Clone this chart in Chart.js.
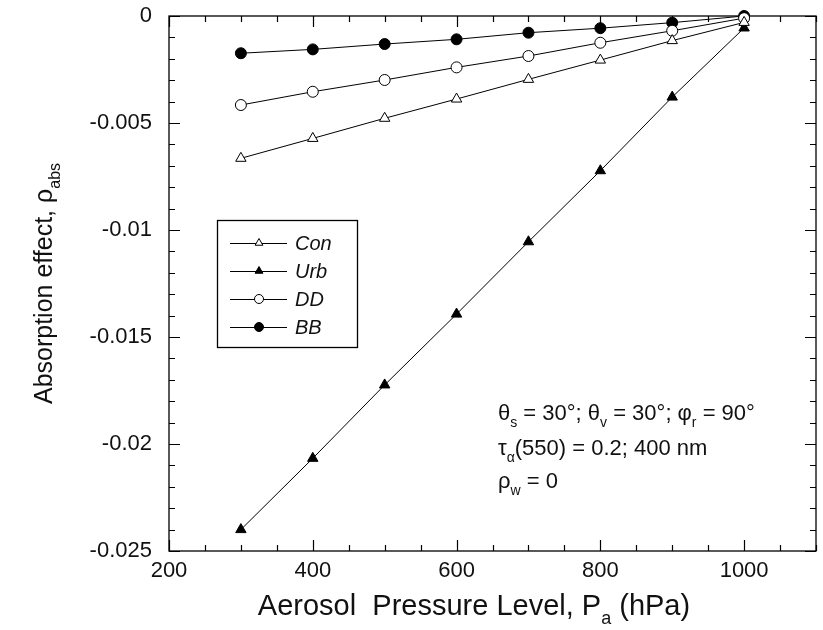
<!DOCTYPE html>
<html>
<head>
<meta charset="utf-8">
<script src="https://cdn.jsdelivr.net/npm/chart.js@4.4.1/dist/chart.umd.min.js"></script>
<style>
  html, body { margin: 0; padding: 0; background: #fff; }
</style>
</head>
<body>
<canvas id="absChart" width="823" height="630"></canvas>
<script>
// values
const pressureLevels = [300, 400, 500, 600, 700, 800, 900, 1000];
const conValues = [-0.00665, -0.00572, -0.00478, -0.00388, -0.00296, -0.00206, -0.00115, -0.0003];
const urbValues = [-0.0240, -0.02067, -0.01724, -0.01393, -0.01055, -0.00723, -0.00379, -0.00056];
const ddValues  = [-0.00416, -0.00354, -0.00299, -0.0024, -0.00187, -0.00125, -0.00069, -0.0001];
const bbValues  = [-0.00174, -0.00156, -0.00131, -0.00109, -0.00078, -0.00057, -0.00031, 0];
const seriesNames = ['Con', 'Urb', 'DD', 'BB'];
const xTickValues = [200, 400, 600, 800, 1000];
const yTickValues = [0, -0.005, -0.01, -0.015, -0.02, -0.025];

const FONT = '"Liberation Sans", Arial, Helvetica, sans-serif';

function toPoints(values) {
  return values.map((v, i) => ({ x: pressureLevels[i], y: v }));
}

function makeSet(name, values, style, fill, r) {
  return {
    label: name,
    data: toPoints(values),
    borderColor: '#000',
    borderWidth: 1,
    pointStyle: style,
    pointRadius: r,
    pointBackgroundColor: fill,
    pointBorderColor: '#000',
    pointBorderWidth: 1,
    tension: 0,
    clip: false
  };
}

// text with subscripts: parts = [[text, isSub], ...]
function drawRich(ctx, parts, x, y, size, italic) {
  let cx = x;
  const style = italic ? 'italic ' : '';
  parts.forEach(([txt, sub]) => {
    const s = sub ? Math.round(size * 0.62) : size;
    ctx.font = style + s + 'px ' + FONT;
    ctx.fillText(txt, cx, sub ? y + size * 0.3 : y);
    cx += ctx.measureText(txt).width;
  });
  return cx - x;
}

function richWidth(ctx, parts, size) {
  let w = 0;
  parts.forEach(([txt, sub]) => {
    const s = sub ? Math.round(size * 0.62) : size;
    ctx.font = s + 'px ' + FONT;
    w += ctx.measureText(txt).width;
  });
  return w;
}

const frameTicks = {
  id: 'frameTicks',
  beforeDatasetsDraw(chart) {
    const { ctx, chartArea: a, scales } = chart;
    const xs = scales.x, ys = scales.y;
    ctx.save();
    ctx.strokeStyle = '#000';
    ctx.lineWidth = 1.3;
    ctx.strokeRect(a.left, a.top, a.right - a.left, a.bottom - a.top);
    ctx.lineWidth = 1.2;
    ctx.beginPath();
    for (let v = xs.min; v <= xs.max; v += 50) {
      const px = Math.round(xs.getPixelForValue(v)) + 0.5;
      const len = v % 200 === 0 ? 11 : 6;
      ctx.moveTo(px, a.bottom); ctx.lineTo(px, a.bottom - len);
      ctx.moveTo(px, a.top); ctx.lineTo(px, a.top + len);
    }
    for (let i = 0; i <= 25; i++) {
      const py = Math.round(ys.getPixelForValue(-i * 0.001)) + 0.5;
      const len = i % 5 === 0 ? 11 : 6;
      ctx.moveTo(a.left, py); ctx.lineTo(a.left + len, py);
      ctx.moveTo(a.right, py); ctx.lineTo(a.right - len, py);
    }
    ctx.stroke();
    ctx.restore();
  },
  afterDraw(chart) {
    const { ctx, chartArea: a } = chart;
    ctx.save();
    ctx.fillStyle = '#111';
    ctx.textBaseline = 'alphabetic';

    // axis titles
    const xt = [['Aerosol  Pressure Level, P', false], ['a', true], [' (hPa)', false]];
    const xw = richWidth(ctx, xt, 29);
    drawRich(ctx, xt, 474 - xw / 2, 615, 29);

    const yt = [['Absorption effect, \u03c1', false], ['abs', true]];
    const yw = richWidth(ctx, yt, 25);
    ctx.save();
    ctx.translate(42, (a.top + a.bottom) / 2);
    ctx.rotate(-Math.PI / 2);
    drawRich(ctx, yt, -yw / 2, 10, 25);
    ctx.restore();

    // annotation
    drawRich(ctx, [['\u03b8', false], ['s', true], [' = 30\u00b0; \u03b8', false], ['v', true],
      [' = 30\u00b0; \u03c6', false], ['r', true], [' = 90\u00b0', false]], 498, 420, 22);
    drawRich(ctx, [['\u03c4', false], ['\u03b1', true], ['(550) = 0.2; 400 nm', false]], 498, 455, 22);
    drawRich(ctx, [['\u03c1', false], ['w', true], [' = 0', false]], 498, 488, 22);

    // legend box
    ctx.strokeStyle = '#000';
    ctx.lineWidth = 1.3;
    ctx.strokeRect(217.5, 220.5, 140, 127);
    chart.data.datasets.forEach((ds, i) => {
      const y = 243 + i * 28;
      ctx.lineWidth = 1;
      ctx.beginPath();
      ctx.moveTo(230, y + 0.5); ctx.lineTo(287, y + 0.5);
      ctx.stroke();
      ctx.fillStyle = ds.pointBackgroundColor;
      ctx.strokeStyle = '#000';
      Chart.helpers.drawPoint(ctx, { pointStyle: ds.pointStyle, rotation: 0, radius: 4.5, borderWidth: 1 }, 259, y);
      ctx.fillStyle = '#111';
      ctx.font = 'italic 20px ' + FONT;
      ctx.textBaseline = 'middle';
      ctx.fillText(ds.label, 295, y + 1);
      ctx.textBaseline = 'alphabetic';
    });
    ctx.restore();
  }
};

function noPad(s) {
  s.paddingTop = 0; s.paddingBottom = 0; s.paddingLeft = 0; s.paddingRight = 0;
}

new Chart(document.getElementById('absChart'), {
  type: 'line',
  data: {
    datasets: [
      makeSet(seriesNames[0], conValues, 'triangle', '#fff', 6),
      makeSet(seriesNames[1], urbValues, 'triangle', '#000', 6),
      makeSet(seriesNames[2], ddValues, 'circle', '#fff', 5.5),
      makeSet(seriesNames[3], bbValues, 'circle', '#000', 5.5)
    ]
  },
  options: {
    responsive: false,
    animation: false,
    events: [],
    layout: { padding: { left: 0, top: 16, right: 3, bottom: 0 } },
    plugins: { legend: { display: false }, tooltip: { enabled: false } },
    scales: {
      x: {
        type: 'linear',
        min: 200,
        max: 1100,
        grid: { display: false, drawTicks: false },
        border: { display: false },
        afterBuildTicks: s => { s.ticks = xTickValues.map(v => ({ value: v })); },
        afterFit: s => { s.height = 79; noPad(s); },
        ticks: {
          padding: 7,
          color: '#111',
          maxRotation: 0,
          font: { family: FONT, size: 22 },
          callback: v => String(v)
        }
      },
      y: {
        type: 'linear',
        min: -0.025,
        max: 0,
        grid: { display: false, drawTicks: false },
        border: { display: false },
        afterBuildTicks: s => { s.ticks = yTickValues.map(v => ({ value: v })); },
        afterFit: s => { s.width = 169; noPad(s); },
        ticks: {
          padding: 17,
          color: '#111',
          font: { family: FONT, size: 22 },
          callback: v => String(parseFloat(v.toFixed(3)))
        }
      }
    }
  },
  plugins: [frameTicks]
});
</script>
</body>
</html>
